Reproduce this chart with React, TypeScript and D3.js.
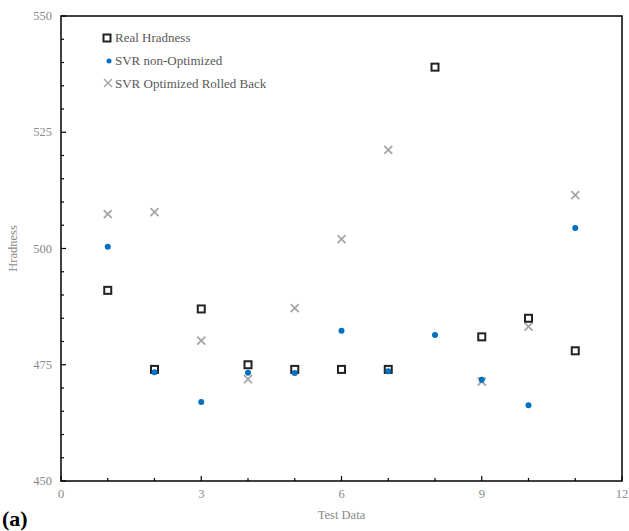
import React from "react";
import * as d3 from "d3";

const testData = [1, 2, 3, 4, 5, 6, 7, 8, 9, 10, 11];
const realHardness = [491, 474, 487, 475, 474, 474, 474, 539, 481, 485, 478];
const svrNonOptimized = [500.4, 473.4, 467, 473.3, 473.2, 482.3, 473.6, 481.4, 471.8, 466.3, 504.4];
const svrOptimized = [507.4, 507.8, 480.2, 471.9, 487.2, 502, 521.2, null, 471.4, 483.2, 511.5];
const xTicks = [0, 3, 6, 9, 12];
const yTicks = [450, 475, 500, 525, 550];
const legendLabels = ["Real Hradness", "SVR non-Optimized", "SVR Optimized Rolled Back"];

const W = 629, H = 531;
const left = 61, right = 622, top = 16, bottom = 481;
const font = "'Liberation Serif', 'Times New Roman', serif";

export default function App() {
  const x = d3.scaleLinear().domain([0, 12]).range([left, right]);
  const y = d3.scaleLinear().domain([450, 550]).range([bottom, top]);
  const xMinor = d3.range(0, 13, 1);
  const yMinor = d3.range(450, 551, 5);
  const tickCol = "#8a8a8a";
  const sq = 7;
  const xs = 4;
  return (
    <svg width={W} height={H} style={{ position: "absolute", left: 0, top: 0 }} fontFamily={font}>
      <rect x={0} y={0} width={W} height={H} fill="#fff" />
      <rect x={left} y={top} width={right - left} height={bottom - top} fill="none" stroke="#000" strokeWidth={1.5} />
      {xMinor.map((v) => (
        <line key={"xm" + v} x1={x(v)} x2={x(v)} y1={bottom} y2={bottom - (v % 3 === 0 ? 5 : 3)} stroke="#000" strokeWidth={1.2} />
      ))}
      {yMinor.map((v) => (
        <line key={"ym" + v} x1={left} x2={left + (v % 25 === 0 ? 5 : 3)} y1={y(v)} y2={y(v)} stroke="#000" strokeWidth={1.2} />
      ))}
      {xTicks.map((v) => (
        <text key={"xt" + v} x={x(v)} y={bottom + 17} textAnchor="middle" fontSize={12.5} fill={tickCol}>{v}</text>
      ))}
      {yTicks.map((v) => (
        <text key={"yt" + v} x={left - 9} y={y(v) + 4} textAnchor="end" fontSize={12.5} fill={tickCol}>{v}</text>
      ))}
      <text x={(left + right) / 2} y={519} textAnchor="middle" fontSize={12.5} fill={tickCol}>Test Data</text>
      <text transform={`translate(17,${(top + bottom) / 2}) rotate(-90)`} textAnchor="middle" fontSize={12.5} fill={tickCol}>Hradness</text>
      <text x={2} y={526} fontSize={22} fontWeight="bold" fill="#000">(a)</text>
      {svrOptimized.map((v, i) => v == null ? null : (
        <g key={"o" + i} stroke="#A6A6A6" strokeWidth={1.8}>
          <line x1={x(testData[i]) - xs} x2={x(testData[i]) + xs} y1={y(v) - xs} y2={y(v) + xs} />
          <line x1={x(testData[i]) - xs} x2={x(testData[i]) + xs} y1={y(v) + xs} y2={y(v) - xs} />
        </g>
      ))}
      {realHardness.map((v, i) => (
        <rect key={"r" + i} x={x(testData[i]) - sq / 2} y={y(v) - sq / 2} width={sq} height={sq} fill="#fff" stroke="#222" strokeWidth={2} />
      ))}
      {svrNonOptimized.map((v, i) => (
        <circle key={"n" + i} cx={x(testData[i])} cy={y(v)} r={3} fill="#0070C0" />
      ))}
      <rect x={107 - sq / 2} y={38 - sq / 2} width={sq} height={sq} fill="#fff" stroke="#222" strokeWidth={2} />
      <circle cx={109} cy={61} r={2.5} fill="#0070C0" />
      <g stroke="#A6A6A6" strokeWidth={1.5}>
        <line x1={104} x2={112} y1={79} y2={87} />
        <line x1={104} x2={112} y1={87} y2={79} />
      </g>
      {legendLabels.map((t, i) => (
        <text key={t} x={115} y={42 + i * 23} fontSize={13} fill="#595959">{t}</text>
      ))}
    </svg>
  );
}
